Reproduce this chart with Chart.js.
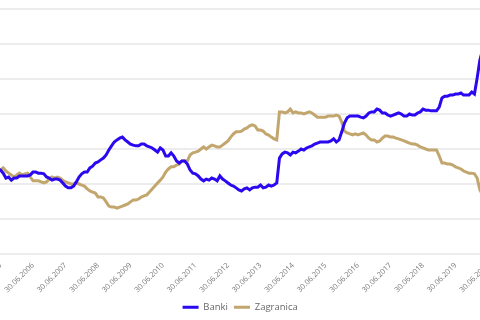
<!DOCTYPE html>
<html lang="pl">
<head>
<meta charset="UTF-8">
<title>Banki i Zagranica</title>
<script src="https://cdn.jsdelivr.net/npm/chart.js@4"></script>
<style>
    html, body { margin: 0; padding: 0; background: #fff; overflow: hidden; width: 480px; height: 320px; }
    /* the original chart is wider than the view and cut on both sides */
    #wrap { position: absolute; left: -40px; top: 0; width: 560px; height: 322px; }
</style>
</head>
<body>
<div id="wrap"><canvas id="chart"></canvas></div>
<script>
// monthly values, 31.12.2004 - 30.09.2020 (% share)
const banki = [
    23.4, 24.0, 23.7, 24.3, 24.0, 23.7, 24.0, 23.1, 21.7, 22.0, 21.1, 21.7,
    21.7, 22.3, 22.3, 22.3, 22.3, 22.6, 23.4, 23.4, 23.1, 23.1, 22.9, 22.0,
    21.7, 21.1, 21.4, 21.4, 21.1, 20.3, 19.4, 18.9, 18.9, 19.4, 20.6, 22.0,
    22.9, 23.4, 23.4, 24.6, 25.1, 26.0, 26.3, 26.9, 27.4, 28.3, 29.7, 30.9,
    32.0, 32.6, 33.1, 33.4, 32.6, 32.0, 31.4, 31.1, 30.9, 30.9, 31.4, 31.4,
    30.9, 30.6, 30.3, 29.7, 29.1, 30.3, 29.7, 28.0, 28.0, 28.9, 28.0, 26.6,
    26.0, 26.6, 26.6, 25.7, 24.0, 23.1, 22.9, 22.3, 21.4, 20.9, 21.4, 21.1,
    21.7, 21.4, 20.9, 22.3, 21.4, 20.9, 20.3, 19.7, 19.4, 18.9, 18.3, 18.0,
    18.6, 18.9, 18.3, 18.9, 19.1, 19.1, 19.7, 18.9, 19.1, 19.7, 19.4, 19.7,
    20.3, 27.4, 28.6, 29.1, 28.9, 28.3, 29.1, 28.9, 29.4, 30.0, 29.7, 30.3,
    30.6, 30.9, 31.4, 31.7, 32.0, 32.0, 32.0, 32.0, 32.3, 32.9, 32.0, 32.6,
    34.9, 37.4, 38.9, 39.4, 39.4, 39.4, 39.4, 39.1, 38.9, 39.4, 40.3, 40.6,
    40.6, 41.4, 41.1, 40.3, 40.3, 39.7, 39.4, 39.7, 40.0, 40.3, 40.0, 39.4,
    39.4, 40.0, 39.7, 39.7, 40.3, 40.6, 41.4, 41.1, 41.1, 40.9, 40.9, 40.9,
    42.0, 44.6, 45.1, 45.1, 45.4, 45.4, 45.7, 45.7, 46.0, 45.4, 45.4, 45.4,
    46.3, 45.7, 50.3, 55.4, 58.3, 60.0, 61.1, 62.0, 62.6, 63.1
];
const zagranica = [
    24.6, 24.9, 24.3, 24.6, 24.0, 24.3, 24.0, 24.6, 23.7, 23.1, 22.6, 22.0,
    22.6, 23.1, 22.6, 22.9, 23.1, 22.0, 20.9, 20.9, 20.9, 20.6, 20.3, 20.6,
    21.4, 22.0, 21.7, 22.0, 21.7, 21.1, 20.6, 20.3, 20.0, 20.0, 20.3, 20.0,
    19.7, 19.4, 18.6, 18.0, 17.7, 17.4, 16.3, 16.3, 16.0, 14.9, 13.7, 13.4,
    13.4, 13.1, 13.4, 13.7, 14.0, 14.3, 14.9, 15.4, 15.4, 15.7, 16.3, 16.6,
    16.9, 17.7, 18.6, 19.4, 20.3, 21.1, 22.0, 23.4, 24.3, 24.9, 24.9, 25.4,
    25.7, 26.6, 26.6, 26.6, 28.3, 28.9, 29.1, 29.4, 30.0, 30.6, 30.0, 30.6,
    31.1, 30.9, 30.6, 30.6, 31.1, 31.7, 32.3, 33.4, 34.3, 34.9, 34.9, 35.1,
    35.7, 36.0, 36.6, 36.9, 36.6, 35.4, 35.4, 35.1, 34.3, 34.0, 33.4, 32.9,
    32.6, 40.6, 40.6, 40.3, 40.6, 41.4, 40.3, 40.6, 40.3, 40.3, 40.0, 40.3,
    40.6, 40.3, 39.7, 39.1, 39.1, 39.1, 39.1, 39.4, 39.4, 39.4, 39.7, 39.4,
    37.7, 35.1, 34.6, 34.3, 34.0, 34.3, 34.0, 34.3, 34.6, 34.0, 33.1, 32.6,
    32.6, 32.0, 32.3, 33.1, 33.7, 33.7, 33.4, 33.4, 33.1, 32.9, 32.6, 32.3,
    32.0, 31.7, 31.4, 31.4, 31.1, 30.6, 30.3, 30.0, 29.7, 29.7, 29.7, 29.7,
    28.0, 26.0, 26.0, 25.7, 25.7, 25.4, 24.9, 24.6, 24.3, 23.7, 23.4, 23.1,
    23.1, 22.9, 21.7, 18.3, 16.9, 16.3, 15.7, 15.4, 15.1, 14.9
];
const seriesNames = ['Banki', 'Zagranica'];
const yMin = 0, yMax = 70, yStep = 10;

// month-end dates, first one 31.12.2004
const dates = banki.map((v, i) => {
    const d = new Date(Date.UTC(2004, 12 + i, 0));
    const dd = String(d.getUTCDate()).padStart(2, '0');
    const mm = String(d.getUTCMonth() + 1).padStart(2, '0');
    return dd + '.' + mm + '.' + d.getUTCFullYear();
});

const font = "'Open Sans', 'DejaVu Sans', sans-serif";

new Chart(document.getElementById('chart'), {
    type: 'line',
    data: {
        labels: dates,
        datasets: [{
            label: seriesNames[0],
            data: banki,
            borderColor: '#2a08f0',
            backgroundColor: '#2a08f0',
            borderWidth: 3,
            pointRadius: 0,
            tension: 0
        }, {
            label: seriesNames[1],
            data: zagranica,
            borderColor: '#c2a66e',
            backgroundColor: '#c2a66e',
            borderWidth: 3,
            pointRadius: 0,
            tension: 0
        }]
    },
    options: {
        responsive: true,
        maintainAspectRatio: false,
        animation: false,
        layout: { padding: { left: 24.25, right: 23.875, top: 9, bottom: 0 } },
        plugins: {
            tooltip: { enabled: false },
            legend: {
                position: 'bottom',
                labels: {
                    boxWidth: 16,
                    boxHeight: 0,
                    padding: 6,
                    color: '#666',
                    font: { family: font, size: 9.5 }
                }
            }
        },
        scales: {
            x: {
                grid: { display: false, drawTicks: false },
                border: { display: false },
                ticks: {
                    autoSkip: false,
                    minRotation: 45,
                    maxRotation: 45,
                    padding: 7,
                    color: '#777',
                    font: { family: font, size: 7.5 },
                    callback: function (value) {
                        const lab = this.getLabelForValue(value);
                        return lab.startsWith('30.06.') ? lab : '';
                    }
                },
                afterFit: function (scale) {
                    scale.paddingLeft = 0;
                    scale.paddingRight = 0;
                    scale.height = 42.5;
                }
            },
            y: {
                min: yMin,
                max: yMax,
                grid: { color: '#ececec', lineWidth: 2, drawTicks: false },
                border: { display: false },
                ticks: { display: false, stepSize: yStep },
                afterFit: function (scale) {
                    scale.width = 0;
                    scale.paddingTop = 0;
                    scale.paddingBottom = 0;
                }
            }
        }
    }
});
</script>
</body>
</html>
